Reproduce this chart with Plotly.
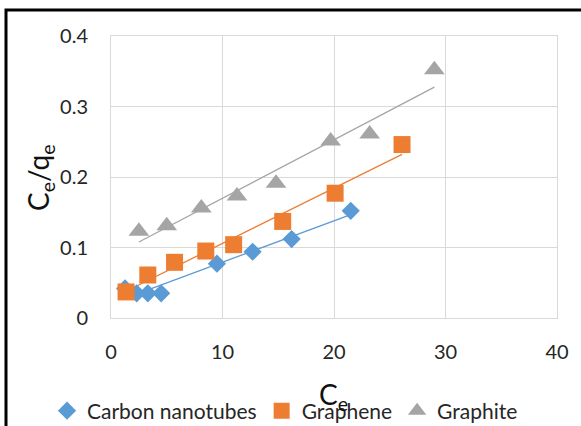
import numpy as np
import plotly.graph_objects as go

# Data
cnt_x = [1.26, 2.3, 3.3, 4.5, 9.5, 12.7, 16.2, 21.5]
cnt_y = [0.042, 0.035, 0.035, 0.035, 0.077, 0.094, 0.112, 0.152]
gra_x = [1.35, 3.3, 5.7, 8.5, 11.0, 15.4, 20.1, 26.1]
gra_y = [0.037, 0.061, 0.079, 0.095, 0.104, 0.137, 0.177, 0.246]
grt_x = [2.5, 5.0, 8.1, 11.3, 14.8, 19.7, 23.2, 29.0]
grt_y = [0.123, 0.131, 0.156, 0.173, 0.191, 0.251, 0.261, 0.352]

names = ["Carbon nanotubes", "Graphene", "Graphite"]
colors = ["#5B9BD5", "#ED7D31", "#A5A5A5"]
symbols = ["diamond", "square", "triangle-up"]
sizes = [14, 17, 18]
series = [(cnt_x, cnt_y), (gra_x, gra_y), (grt_x, grt_y)]

FONT = "Lato"
TXT = "#262626"
fig = go.Figure()

# linear trendlines (least squares, as in spreadsheet trendline)
for (xs, ys), c in zip(series, colors):
    m, b = np.polyfit(xs, ys, 1)
    lx = [min(xs), max(xs)]
    fig.add_trace(go.Scatter(x=lx, y=[m * v + b for v in lx], mode="lines",
                             line=dict(color=c, width=1.3), showlegend=False,
                             hoverinfo="skip"))

for (xs, ys), n, c, s, sz in zip(series, names, colors, symbols, sizes):
    fig.add_trace(go.Scatter(x=xs, y=ys, mode="markers", name=n,
                             marker=dict(color=c, symbol=s, size=sz,
                                         line=dict(width=0))))

W, H = 581, 426
L, R, T, B = 111, 24, 36, 108
pw, ph = W - L - R, H - T - B

def px2x(p):
    return (p - L) / pw

def px2y(p):
    return (H - B - p) / ph

fig.update_layout(
    width=W, height=H,
    margin=dict(l=L, r=R, t=T, b=B, autoexpand=False),
    paper_bgcolor="white", plot_bgcolor="white",
    font=dict(family=FONT, size=20, color=TXT),
    xaxis=dict(range=[0, 40], tickvals=[0, 10, 20, 30, 40], showgrid=True,
               gridcolor="#d9d9d9", gridwidth=1, zeroline=False,
               showline=True, linecolor="#d9d9d9", mirror=True,
               ticks="", ticklabelstandoff=16, automargin=False,
               tickfont=dict(size=20, family=FONT, color=TXT)),
    yaxis=dict(range=[0, 0.4], tickvals=[0, 0.1, 0.2, 0.3, 0.4],
               ticktext=["0", "0.1", "0.2", "0.3", "0.4"], showgrid=True,
               gridcolor="#d9d9d9", gridwidth=1, zeroline=False,
               showline=True, linecolor="#d9d9d9", mirror=True,
               ticks="", ticklabelstandoff=18, automargin=False,
               tickfont=dict(size=20, family=FONT, color=TXT)),
    legend=dict(orientation="h", x=px2x(47), xanchor="left",
                y=px2y(411), yanchor="middle",
                font=dict(size=21, family=FONT, color=TXT),
                itemwidth=30, tracegroupgap=0, bgcolor="rgba(0,0,0,0)"),
    showlegend=True,
    annotations=[
        dict(text="C<sub>e</sub>", xref="paper", yref="paper",
             x=px2x(333), y=px2y(396), xanchor="center", yanchor="middle",
             showarrow=False, font=dict(size=28, family=FONT, color="#111111")),
        dict(text="C<sub>e</sub>/q<sub>e</sub>", xref="paper", yref="paper",
             x=px2x(40), y=px2y(178), xanchor="center", yanchor="middle",
             textangle=-90, showarrow=False,
             font=dict(size=28, family=FONT, color="#111111")),
    ],
    shapes=[
        dict(type="rect", xref="paper", yref="paper",
             x0=px2x(6), x1=px2x(600), y0=px2y(460), y1=px2y(10),
             line=dict(color="black", width=3), fillcolor="rgba(0,0,0,0)",
             layer="above"),
    ],
)

fig.write_html("out.html")
